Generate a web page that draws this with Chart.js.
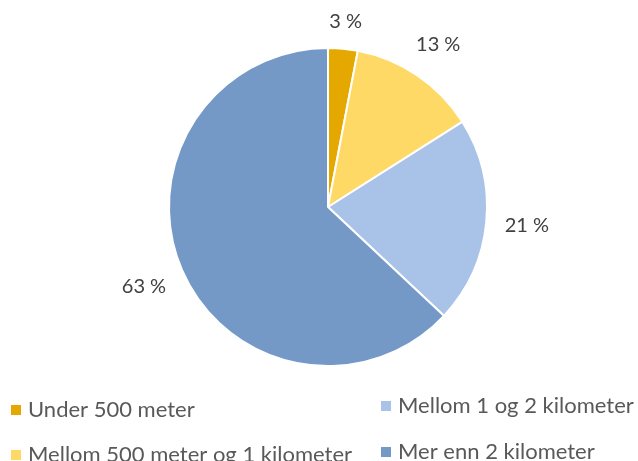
<!DOCTYPE html>
<html>
<head>
<meta charset="utf-8">
<script src="https://cdn.jsdelivr.net/npm/chart.js@4.4.1/dist/chart.umd.min.js"></script>
<style>
  html, body { margin: 0; padding: 0; background: #fff; }
  #wrap { width: 638px; height: 461px; position: relative; }
</style>
</head>
<body>
<div id="wrap"><canvas id="pie"></canvas></div>
<script>
// distance to school, share of pupils
const categories = ['Under 500 meter', 'Mellom 500 meter og 1 kilometer', 'Mellom 1 og 2 kilometer', 'Mer enn 2 kilometer'];
const shares = [3, 13, 21, 63];
const sliceColors = ['#E5A800', '#FFD966', '#A9C3E8', '#7599C7'];

// percent labels just outside each slice
const outsideLabels = {
  id: 'outsideLabels',
  afterDatasetsDraw(chart) {
    const ctx = chart.ctx;
    const meta = chart.getDatasetMeta(0);
    ctx.save();
    ctx.font = '20px Lato, "Open Sans", sans-serif';
    ctx.fillStyle = '#404040';
    ctx.textAlign = 'center';
    ctx.textBaseline = 'middle';
    meta.data.forEach((arc, i) => {
      const text = shares[i] + ' %';
      const mid = (arc.startAngle + arc.endAngle) / 2;
      const dx = Math.cos(mid), dy = Math.sin(mid);
      const halfW = ctx.measureText(text).width / 2, halfH = 8;
      const dist = arc.outerRadius + 18 + Math.abs(dx) * halfW + Math.abs(dy) * halfH;
      ctx.fillText(text, arc.x + dx * dist, arc.y + dy * dist);
    });
    ctx.restore();
  }
};

// two-column legend under the pie (x, text baseline)
const gridLegend = {
  id: 'gridLegend',
  afterDraw(chart) {
    const ctx = chart.ctx;
    const spots = [[11, 417], [11, 462], [381, 413], [381, 459]];
    ctx.save();
    ctx.font = '22px Lato, "Open Sans", sans-serif';
    ctx.textBaseline = 'alphabetic';
    categories.forEach((name, i) => {
      const [x, y] = spots[i];
      ctx.fillStyle = sliceColors[i];
      ctx.fillRect(x, y - 12, 10, 10);
      ctx.fillStyle = '#595959';
      ctx.fillText(name, x + 17, y);
    });
    ctx.restore();
  }
};

new Chart(document.getElementById('pie'), {
  type: 'pie',
  data: {
    labels: categories,
    datasets: [{
      data: shares,
      backgroundColor: sliceColors,
      borderColor: '#ffffff',
      borderWidth: 2
    }]
  },
  options: {
    responsive: true,
    maintainAspectRatio: false,
    animation: false,
    layout: { padding: { top: 47, bottom: 94, left: 168, right: 150 } },
    plugins: {
      legend: { display: false },
      tooltip: { enabled: false }
    }
  },
  plugins: [outsideLabels, gridLegend]
});
</script>
</body>
</html>
